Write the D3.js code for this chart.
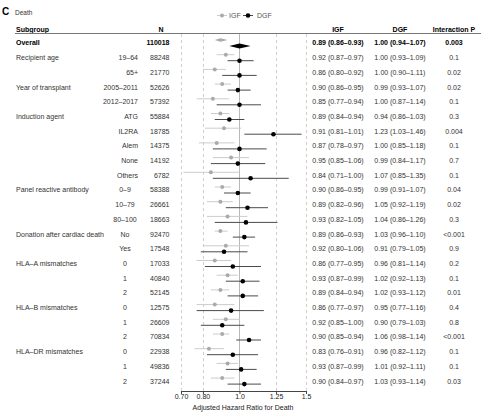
<!DOCTYPE html>
<html>
<head>
<meta charset="utf-8">
<script src="https://cdn.jsdelivr.net/npm/d3@7"></script>
<style>
  html, body { margin: 0; padding: 0; background: #fff; }
  svg { display: block; font-family: "Liberation Sans", Arial, Helvetica, sans-serif; opacity: 0.999; }
</style>
</head>
<body>
<svg id="chart" width="481" height="413"></svg>
<script>
// ---------------- DATA ----------------
const groupLabels = ["Overall","Recipient age","","Year of transplant","","Induction agent","","","","",
  "Panel reactive antibody","","","Donation after cardiac death","","HLA\u2013A mismatches","","",
  "HLA\u2013B mismatches","","","HLA\u2013DR mismatches","",""];
const levelLabels = ["","19\u201364","65+","2005\u20132011","2012\u20132017","ATG","IL2RA","Alem","None","Others",
  "0\u20139","10\u201379","80\u2013100","No","Yes","0","1","2","0","1","2","0","1","2"];
const nValues = [110018,88248,21770,52626,57392,55884,18785,14375,14192,6782,
  58388,26661,18663,92470,17548,17033,40840,52145,12575,26609,70834,22938,49836,37244];
const igfHR   = [0.89,0.92,0.86,0.90,0.85,0.89,0.91,0.87,0.95,0.84,0.90,0.89,0.93,0.89,0.92,0.86,0.93,0.89,0.86,0.92,0.90,0.83,0.93,0.90];
const igfLow  = [0.86,0.87,0.80,0.86,0.77,0.84,0.81,0.78,0.85,0.71,0.86,0.82,0.82,0.86,0.80,0.77,0.87,0.84,0.77,0.85,0.85,0.76,0.87,0.84];
const igfHigh = [0.93,0.97,0.92,0.95,0.94,0.94,1.01,0.97,1.06,1.00,0.95,0.96,1.05,0.93,1.06,0.95,0.99,0.94,0.97,1.00,0.94,0.91,0.99,0.97];
const dgfHR   = [1.00,1.00,1.00,0.99,1.00,0.94,1.23,1.00,0.99,1.07,0.99,1.05,1.04,1.03,0.91,0.96,1.02,1.02,0.95,0.90,1.06,0.96,1.01,1.03];
const dgfLow  = [0.94,0.93,0.90,0.93,0.87,0.86,1.03,0.85,0.84,0.85,0.91,0.92,0.86,0.96,0.79,0.81,0.92,0.93,0.77,0.79,0.98,0.82,0.92,0.93];
const dgfHigh = [1.07,1.09,1.11,1.07,1.14,1.03,1.46,1.18,1.17,1.35,1.07,1.19,1.26,1.10,1.05,1.14,1.13,1.12,1.16,1.03,1.14,1.12,1.11,1.14];
const pInteraction = ["0.003","0.1","0.02","0.02","0.1","0.3","0.004","0.1","0.7","0.1","0.04","0.02","0.3","<0.001","0.9","0.2","0.1","0.01","0.4","0.8","<0.001","0.1","0.1","0.03"];
const tickValues = [0.70, 0.80, 1.0, 1.25, 1.5];
const tickLabels = ["0.70","0.80","1.0","1.25","1.5"];
const seriesNames = ["IGF","DGF"];

// ---------------- LAYOUT ----------------
const svg = d3.select("#chart");
const FS = 7;
const x = d3.scaleLog().domain([0.7, 1.5]).range([181, 306]);
const y = d3.scaleLinear().domain([0, levelLabels.length - 1]).range([43, 381.1]);
const axisY = 391;
const off = 3;
const fmt = d3.format(".2f");
const igfLine = "#cccccc", igfPt = "#aaaaaa", dgfLine = "#4a4a4a", dgfPt = "#000000";

// Title
svg.append("text").attr("x", 2).attr("y", 15).attr("font-size", 10).attr("font-weight", "bold").text("C");
svg.append("text").attr("x", 15).attr("y", 14.5).attr("font-size", 6.5).attr("fill", "#333").text("Death");

// Legend
const lg = svg.append("g").attr("transform", "translate(0,15.5)");
[[217, igfLine, igfPt, 2, 229, seriesNames[0]], [243, dgfLine, dgfPt, 2.3, 257, seriesNames[1]]].forEach(([x0, lc, pc, r, tx, name]) => {
  lg.append("line").attr("x1", x0).attr("x2", x0 + 10).attr("y1", 0).attr("y2", 0).attr("stroke", lc).attr("stroke-width", 1);
  lg.append("circle").attr("cx", x0 + 5).attr("cy", 0).attr("r", r).attr("fill", pc);
  lg.append("text").attr("x", tx).attr("y", 2.4).attr("font-size", FS).attr("fill", "#555").text(name);
});

// Headers
const hy = 31.5;
svg.append("text").attr("x", 16).attr("y", hy).attr("font-size", FS).attr("font-weight", "bold").text("Subgroup");
svg.append("text").attr("x", 161).attr("y", hy).attr("font-size", FS).attr("font-weight", "bold").attr("text-anchor", "middle").text("N");
svg.append("text").attr("x", 338).attr("y", hy).attr("font-size", FS).attr("font-weight", "bold").attr("text-anchor", "middle").text(seriesNames[0]);
svg.append("text").attr("x", 400).attr("y", hy).attr("font-size", FS).attr("font-weight", "bold").attr("text-anchor", "middle").text(seriesNames[1]);
svg.append("text").attr("x", 454).attr("y", hy).attr("font-size", FS).attr("font-weight", "bold").attr("text-anchor", "middle").text("Interaction P");
svg.append("line").attr("x1", 15).attr("x2", 481).attr("y1", 33.5).attr("y2", 33.5).attr("stroke", "#777").attr("stroke-width", 1);

// Reference lines
tickValues.forEach(v => {
  svg.append("line")
    .attr("x1", Math.round(x(v)) + 0.5).attr("x2", Math.round(x(v)) + 0.5)
    .attr("y1", 34).attr("y2", axisY)
    .attr("stroke", v === 1 ? "#b8b8b8" : "#cfcfcf")
    .attr("stroke-width", 1)
    .attr("stroke-dasharray", v === 1 ? null : "3,3");
});

// Axis
const axis = d3.axisBottom(x).tickValues(tickValues).tickFormat((d, i) => tickLabels[i]).tickSize(3).tickSizeOuter(0);
const ag = svg.append("g").attr("transform", `translate(0,${axisY})`).call(axis);
ag.select(".domain").attr("stroke", "#444");
ag.selectAll(".tick line").attr("stroke", "#444");
ag.selectAll(".tick text").attr("font-size", FS).attr("font-family", "Liberation Sans, Arial, sans-serif").attr("fill", "#222").attr("dy", "0.55em").attr("y", 4);
svg.append("text").attr("x", 243).attr("y", 409.5).attr("font-size", FS).attr("text-anchor", "middle").attr("fill", "#222").text("Adjusted Hazard Ratio for Death");

// Rows
const rightAlignedGroups = new Set(["Recipient age", "Year of transplant", "Induction agent"]);
let currentGroup = "";
levelLabels.forEach((lvl, i) => {
  if (groupLabels[i]) currentGroup = groupLabels[i];
  const yy = y(i);
  const bold = i === 0;
  const tcol = bold ? "#000" : "#333";
  const base = yy + 2.4;
  if (groupLabels[i]) {
    svg.append("text").attr("x", 16).attr("y", base).attr("font-size", FS).attr("fill", tcol)
      .attr("font-weight", bold ? "bold" : null).text(groupLabels[i]);
  }
  if (lvl) {
    const ra = rightAlignedGroups.has(currentGroup);
    svg.append("text").attr("x", ra ? 138 : 125).attr("y", base).attr("font-size", FS).attr("fill", tcol)
      .attr("text-anchor", ra ? "end" : "middle").text(lvl);
  }
  svg.append("text").attr("x", 169.5).attr("y", base).attr("font-size", FS).attr("fill", tcol)
    .attr("text-anchor", "end").attr("font-weight", bold ? "bold" : null).text(nValues[i]);
  svg.append("text").attr("x", 338).attr("y", base).attr("font-size", FS).attr("fill", tcol)
    .attr("text-anchor", "middle").attr("font-weight", bold ? "bold" : null)
    .text(`${fmt(igfHR[i])} (${fmt(igfLow[i])}\u2013${fmt(igfHigh[i])})`);
  svg.append("text").attr("x", 400).attr("y", base).attr("font-size", FS).attr("fill", tcol)
    .attr("text-anchor", "middle").attr("font-weight", bold ? "bold" : null)
    .text(`${fmt(dgfHR[i])} (${fmt(dgfLow[i])}\u2013${fmt(dgfHigh[i])})`);
  svg.append("text").attr("x", 454).attr("y", base).attr("font-size", FS).attr("fill", tcol)
    .attr("text-anchor", "middle").attr("font-weight", bold ? "bold" : null).text(pInteraction[i]);

  if (i === 0) {
    // summary diamonds
    const diamond = (lo, est, hi, cy, h) => `M${x(lo)},${cy} L${x(est)},${cy - h} L${x(hi)},${cy} L${x(est)},${cy + h} Z`;
    svg.append("path").attr("d", diamond(igfLow[i], igfHR[i], igfHigh[i], yy - off, 1.8)).attr("fill", igfPt);
    svg.append("path").attr("d", diamond(dgfLow[i], dgfHR[i], dgfHigh[i], yy + off, 2.6)).attr("fill", dgfPt);
  } else {
    svg.append("line").attr("x1", x(igfLow[i])).attr("x2", x(igfHigh[i])).attr("y1", yy - off).attr("y2", yy - off)
      .attr("stroke", igfLine).attr("stroke-width", 1);
    svg.append("circle").attr("cx", x(igfHR[i])).attr("cy", yy - off).attr("r", 2).attr("fill", igfPt);
    svg.append("line").attr("x1", x(dgfLow[i])).attr("x2", x(dgfHigh[i])).attr("y1", yy + off).attr("y2", yy + off)
      .attr("stroke", dgfLine).attr("stroke-width", 1);
    svg.append("circle").attr("cx", x(dgfHR[i])).attr("cy", yy + off).attr("r", 2.3).attr("fill", dgfPt);
  }
});
</script>
</body>
</html>
